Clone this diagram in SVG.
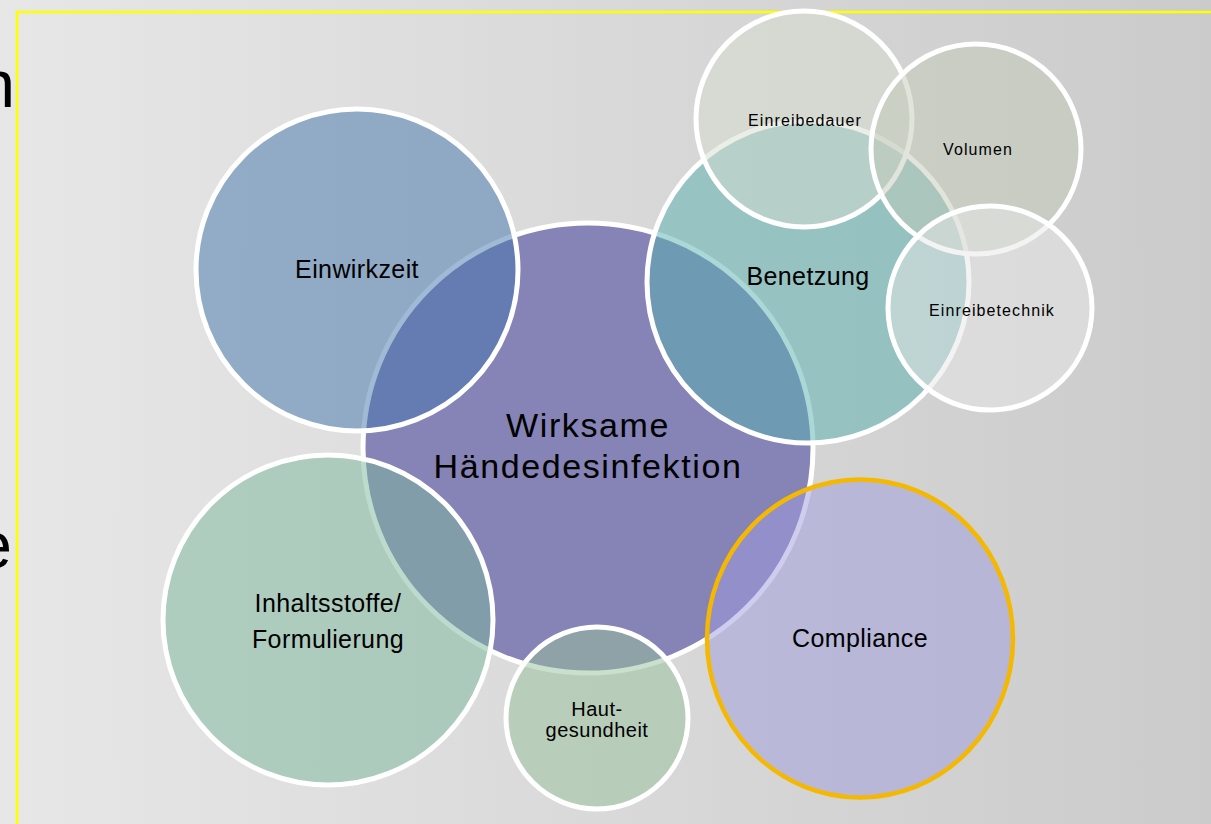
<svg xmlns="http://www.w3.org/2000/svg" width="1211" height="824" viewBox="0 0 1211 824">
  <defs>
    <linearGradient id="bg" x1="0" y1="0" x2="1211" y2="0" gradientUnits="userSpaceOnUse">
      <stop offset="0" stop-color="#e7e7e7"/>
      <stop offset="1" stop-color="#cbcbcb"/>
    </linearGradient>
  </defs>
  <style>
    .bubble { stroke: #ffffff; stroke-width: 5; fill-opacity: 0.5; }
    .core { stroke: #ffffff; stroke-width: 5; }
    .accent { stroke: #f5b800; stroke-width: 4.5; fill-opacity: 0.5; }
    .label { font-family: "Liberation Sans", Arial, sans-serif; fill: #000000; text-anchor: middle; }
    .big { font-size: 34px; letter-spacing: 1.6px; }
    .mid { font-size: 25px; letter-spacing: 0.4px; }
    .sm { font-size: 20px; letter-spacing: 0.5px; }
    .xs { font-size: 16px; letter-spacing: 1.1px; }
    .edge { font-family: "Liberation Sans", Arial, sans-serif; font-size: 66px; fill: #000000; text-anchor: end; }
  </style>

  <!-- slide background, frame and the trailing letters of the neighbouring text box -->
  <rect x="0" y="0" width="1211" height="824" fill="url(#bg)"/>
  <text class="edge" x="15" y="107">n</text>
  <text class="edge" x="12" y="568">e</text>
  <rect x="17" y="12" width="1300" height="900" fill="none" stroke="#ffff00" stroke-width="2.5"/>

  <!-- central topic -->
  <g id="node-wirksame">
    <circle class="core" cx="588" cy="448" r="225" fill="#8683b6"/>
    <text class="label big" x="588" y="437">Wirksame</text>
    <text class="label big" x="588" y="478">Händedesinfektion</text>
  </g>

  <g id="node-einwirkzeit">
    <circle class="bubble" cx="357" cy="270" r="161" fill="#4175ab"/>
    <text class="label mid" x="357" y="278">Einwirkzeit</text>
  </g>

  <g id="node-benetzung">
    <circle class="bubble" cx="808" cy="282" r="161" fill="#58b2b0"/>
    <text class="label mid" x="808" y="285">Benetzung</text>
  </g>

  <g id="node-einreibedauer">
    <circle class="bubble" cx="804" cy="119" r="108" fill="#d7dbcf"/>
    <text class="label xs" x="805" y="126">Einreibedauer</text>
  </g>

  <g id="node-volumen">
    <circle class="bubble" cx="976" cy="149" r="105" fill="#c1c9b7"/>
    <text class="label xs" x="978" y="155">Volumen</text>
  </g>

  <g id="node-einreibetechnik">
    <circle class="bubble" cx="990" cy="308" r="102" fill="#e8e8e8"/>
    <text class="label xs" x="992" y="316">Einreibetechnik</text>
  </g>

  <g id="node-inhaltsstoffe">
    <circle class="bubble" cx="328" cy="620" r="165" fill="#7cb89c"/>
    <text class="label mid" x="328" y="612">Inhaltsstoffe/</text>
    <text class="label mid" x="328" y="648">Formulierung</text>
  </g>

  <g id="node-hautgesundheit">
    <circle class="bubble" cx="597" cy="718" r="91" fill="#97c199"/>
    <text class="label sm" x="597" y="716">Haut-</text>
    <text class="label sm" x="597" y="737">gesundheit</text>
  </g>

  <g id="node-compliance">
    <ellipse class="accent" cx="860" cy="638.5" rx="153" ry="159" fill="#9d9bdd"/>
    <text class="label mid" x="860" y="647">Compliance</text>
  </g>

  <!-- the overlapping bubbles carry no connector lines -->
  <g id="connectors"/>
</svg>
